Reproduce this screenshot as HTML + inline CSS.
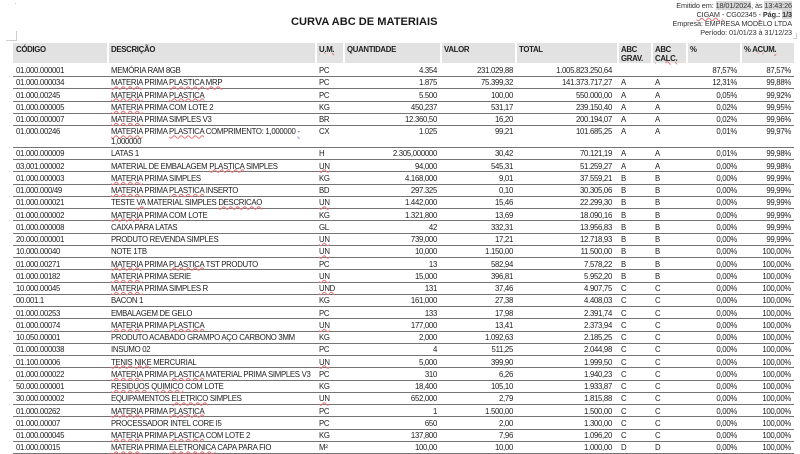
<!DOCTYPE html>
<html><head><meta charset="utf-8">
<style>
html,body{margin:0;padding:0;background:#fff;}
body{width:800px;height:453px;position:relative;overflow:hidden;font-family:"Liberation Sans",Arial,sans-serif;color:#1e1e1e;}
.title{position:absolute;left:291px;top:16.6px;font-size:11.1px;line-height:11.1px;font-weight:bold;white-space:nowrap;color:#1a1a1a;}
.info{position:absolute;right:8px;top:2.3px;text-align:right;font-size:7.3px;line-height:8.9px;color:#333;white-space:nowrap;letter-spacing:-0.1px;}
.hl{background:#d6d6d6;}
.sp{text-decoration:underline wavy #e57373;text-decoration-thickness:0.5px;text-underline-offset:0px;}
.bl{text-decoration:underline wavy #7a8fe0;text-decoration-thickness:0.5px;text-underline-offset:0px;}
table{position:absolute;left:13px;width:781px;table-layout:fixed;border-collapse:separate;border-spacing:0;font-size:7.8px;letter-spacing:-0.3px;}
th{background:#e2e2e2;height:20px;box-sizing:border-box;padding:1.5px 2px 0 2px;text-align:left;vertical-align:top;font-weight:bold;line-height:9px;border-left:2px solid #fff;color:#222;}
th:first-child{border-left:none;padding-left:3px;}
td{padding:1.35px 3px 0.325px 4px;line-height:9.6px;border-bottom:1px solid #747474;vertical-align:top;white-space:nowrap;overflow:visible;}
td:first-child{padding-left:3px;}
td.r{text-align:right;}
td.q{padding-right:3px;}
td.v{padding-right:2px;}
td.t{padding-right:5px;}
td.p{padding-right:3px;}
.mk{position:absolute;background:#cfcfcf;}
</style></head><body>
<div class="mk" style="left:15px;top:3px;width:1px;height:1px;"></div>
<div class="mk" style="left:16px;top:31px;width:1px;height:10px;"></div>
<div class="mk" style="left:6px;top:40px;width:10px;height:1px;"></div>
<div class="mk" style="left:796px;top:33px;width:1px;height:6px;"></div>
<div class="mk" style="left:793px;top:38px;width:3px;height:1px;"></div>

<div class="title">CURVA ABC DE MATERIAIS</div>
<div class="info">
Emitido em: <span class="hl">18/01/2024</span>, às <span class="hl">13:43:26</span><br>
<span class="sp">CIGAM</span> <span class="sp">-</span> CG02345 <span class="sp">-</span> <b>Pág.:</b> <b class="hl">1/3</b><br>
Empresa: EMPRESA MODELO LTDA<br>
Período: 01/01/23 à 31/12/23
</div>

<table style="top:43px;">
<colgroup><col style="width:94px"><col style="width:208px"><col style="width:28px"><col style="width:97px"><col style="width:75px"><col style="width:102px"><col style="width:34px"><col style="width:35px"><col style="width:54px"><col style="width:54px"></colgroup>
<tr><th>CÓDIGO</th><th>DESCRIÇÃO</th><th><span class="sp">U.M.</span></th><th>QUANTIDADE</th><th>VALOR</th><th>TOTAL</th><th>ABC<br>GRAV.</th><th>ABC<br><span class="sp">CALC.</span></th><th>%</th><th>% <span class="sp">ACUM.</span></th></tr>
</table>

<table style="top:64.9px;">
<colgroup><col style="width:94px"><col style="width:208px"><col style="width:28px"><col style="width:97px"><col style="width:75px"><col style="width:102px"><col style="width:34px"><col style="width:35px"><col style="width:54px"><col style="width:54px"></colgroup>
<tr><td>01.000.000001</td><td>MEMÓRIA RAM 8GB</td><td>PC</td><td class="r q">4.354</td><td class="r v">231.029,88</td><td class="r t">1.005.823.250,64</td><td></td><td></td><td class="r p">87,57%</td><td class="r p">87,57%</td></tr>
<tr><td>01.000.000034</td><td><span class="sp">MATERIA</span> PRIMA <span class="sp">PLASTICA</span> <span class="sp">MRP</span></td><td>PC</td><td class="r q">1.875</td><td class="r v">75.399,32</td><td class="r t">141.373.717,27</td><td>A</td><td>A</td><td class="r p">12,31%</td><td class="r p">99,88%</td></tr>
<tr><td>01.000.00245</td><td><span class="sp">MATERIA</span> PRIMA <span class="sp">PLASTICA</span></td><td>PC</td><td class="r q">5.500</td><td class="r v">100,00</td><td class="r t">550.000,00</td><td>A</td><td>A</td><td class="r p">0,05%</td><td class="r p">99,92%</td></tr>
<tr><td>01.000.000005</td><td><span class="sp">MATERIA</span> PRIMA COM LOTE 2</td><td>KG</td><td class="r q">450,237</td><td class="r v">531,17</td><td class="r t">239.150,40</td><td>A</td><td>A</td><td class="r p">0,02%</td><td class="r p">99,95%</td></tr>
<tr><td>01.000.000007</td><td><span class="sp">MATERIA</span> PRIMA SIMPLES V3</td><td>BR</td><td class="r q">12.360,50</td><td class="r v">16,20</td><td class="r t">200.194,07</td><td>A</td><td>A</td><td class="r p">0,02%</td><td class="r p">99,96%</td></tr>
<tr><td>01.000.00246</td><td><span class="sp">MATERIA</span> PRIMA <span class="sp">PLASTICA</span> COMPRIMENTO: 1,000000 <span class="bl">-</span><br>1,000000</td><td>CX</td><td class="r q">1.025</td><td class="r v">99,21</td><td class="r t">101.685,25</td><td>A</td><td>A</td><td class="r p">0,01%</td><td class="r p">99,97%</td></tr>
<tr><td>01.000.000009</td><td>LATAS 1</td><td>H</td><td class="r q">2.305,000000</td><td class="r v">30,42</td><td class="r t">70.121,19</td><td>A</td><td>A</td><td class="r p">0,01%</td><td class="r p">99,98%</td></tr>
<tr><td>03.001.000002</td><td>MATERIAL DE EMBALAGEM <span class="sp">PLASTICA</span> SIMPLES</td><td><span class="sp">UN</span></td><td class="r q">94,000</td><td class="r v">545,31</td><td class="r t">51.259,27</td><td>A</td><td>A</td><td class="r p">0,00%</td><td class="r p">99,98%</td></tr>
<tr><td>01.000.000003</td><td><span class="sp">MATERIA</span> PRIMA SIMPLES</td><td>KG</td><td class="r q">4.168,000</td><td class="r v">9,01</td><td class="r t">37.559,21</td><td>B</td><td>B</td><td class="r p">0,00%</td><td class="r p">99,99%</td></tr>
<tr><td>01.000.000/49</td><td><span class="sp">MATERIA</span> PRIMA <span class="sp">PLASTICA</span> INSERTO</td><td>BD</td><td class="r q">297.325</td><td class="r v">0,10</td><td class="r t">30.305,06</td><td>B</td><td>B</td><td class="r p">0,00%</td><td class="r p">99,99%</td></tr>
<tr><td>01.000.000021</td><td>TESTE <span class="sp">VA</span> MATERIAL SIMPLES <span class="sp">DESCRICAO</span></td><td><span class="sp">UN</span></td><td class="r q">1.442,000</td><td class="r v">15,46</td><td class="r t">22.299,30</td><td>B</td><td>B</td><td class="r p">0,00%</td><td class="r p">99,99%</td></tr>
<tr><td>01.000.000002</td><td><span class="sp">MATERIA</span> PRIMA COM LOTE</td><td>KG</td><td class="r q">1.321,800</td><td class="r v">13,69</td><td class="r t">18.090,16</td><td>B</td><td>B</td><td class="r p">0,00%</td><td class="r p">99,99%</td></tr>
<tr><td>01.000.000008</td><td>CAIXA PARA LATAS</td><td>GL</td><td class="r q">42</td><td class="r v">332,31</td><td class="r t">13.956,83</td><td>B</td><td>B</td><td class="r p">0,00%</td><td class="r p">99,99%</td></tr>
<tr><td>20.000.000001</td><td>PRODUTO REVENDA SIMPLES</td><td><span class="sp">UN</span></td><td class="r q">739,000</td><td class="r v">17,21</td><td class="r t">12.718,93</td><td>B</td><td>B</td><td class="r p">0,00%</td><td class="r p">99,99%</td></tr>
<tr><td>10.000.00040</td><td>NOTE 1TB</td><td><span class="sp">UN</span></td><td class="r q">10,000</td><td class="r v">1.150,00</td><td class="r t">11.500,00</td><td>B</td><td>B</td><td class="r p">0,00%</td><td class="r p">100,00%</td></tr>
<tr><td>01.000.00271</td><td><span class="sp">MATERIA</span> PRIMA <span class="sp">PLASTICA</span> TST PRODUTO</td><td>PC</td><td class="r q">13</td><td class="r v">582,94</td><td class="r t">7.578,22</td><td>B</td><td>B</td><td class="r p">0,00%</td><td class="r p">100,00%</td></tr>
<tr><td>01.000.00182</td><td><span class="sp">MATERIA</span> PRIMA SERIE</td><td><span class="sp">UN</span></td><td class="r q">15,000</td><td class="r v">396,81</td><td class="r t">5.952,20</td><td>B</td><td>B</td><td class="r p">0,00%</td><td class="r p">100,00%</td></tr>
<tr><td>10.000.00045</td><td><span class="sp">MATERIA</span> PRIMA SIMPLES R</td><td><span class="sp">UND</span></td><td class="r q">131</td><td class="r v">37,46</td><td class="r t">4.907,75</td><td>C</td><td>C</td><td class="r p">0,00%</td><td class="r p">100,00%</td></tr>
<tr><td>00.001.1</td><td>BACON 1</td><td>KG</td><td class="r q">161,000</td><td class="r v">27,38</td><td class="r t">4.408,03</td><td>C</td><td>C</td><td class="r p">0,00%</td><td class="r p">100,00%</td></tr>
<tr><td>01.000.00253</td><td>EMBALAGEM DE GELO</td><td>PC</td><td class="r q">133</td><td class="r v">17,98</td><td class="r t">2.391,74</td><td>C</td><td>C</td><td class="r p">0,00%</td><td class="r p">100,00%</td></tr>
<tr><td>01.000.00074</td><td><span class="sp">MATERIA</span> PRIMA <span class="sp">PLASTICA</span></td><td><span class="sp">UN</span></td><td class="r q">177,000</td><td class="r v">13,41</td><td class="r t">2.373,94</td><td>C</td><td>C</td><td class="r p">0,00%</td><td class="r p">100,00%</td></tr>
<tr><td>10.050.00001</td><td>PRODUTO ACABADO GRAMPO AÇO CARBONO 3MM</td><td>KG</td><td class="r q">2,000</td><td class="r v">1.092,63</td><td class="r t">2.185,25</td><td>C</td><td>C</td><td class="r p">0,00%</td><td class="r p">100,00%</td></tr>
<tr><td>01.000.000038</td><td>INSUMO 02</td><td>PC</td><td class="r q">4</td><td class="r v">511,25</td><td class="r t">2.044,98</td><td>C</td><td>C</td><td class="r p">0,00%</td><td class="r p">100,00%</td></tr>
<tr><td>01.100.00006</td><td><span class="sp">TENIS</span> <span class="sp">NIKE</span> MERCURIAL</td><td><span class="sp">UN</span></td><td class="r q">5,000</td><td class="r v">399,90</td><td class="r t">1.999,50</td><td>C</td><td>C</td><td class="r p">0,00%</td><td class="r p">100,00%</td></tr>
<tr><td>01.000.000022</td><td><span class="sp">MATERIA</span> PRIMA <span class="sp">PLASTICA</span> MATERIAL PRIMA SIMPLES V3</td><td>PC</td><td class="r q">310</td><td class="r v">6,26</td><td class="r t">1.940,23</td><td>C</td><td>C</td><td class="r p">0,00%</td><td class="r p">100,00%</td></tr>
<tr><td>50.000.000001</td><td><span class="sp">RESIDUOS</span> <span class="sp">QUIMICO</span> COM LOTE</td><td>KG</td><td class="r q">18,400</td><td class="r v">105,10</td><td class="r t">1.933,87</td><td>C</td><td>C</td><td class="r p">0,00%</td><td class="r p">100,00%</td></tr>
<tr><td>30.000.000002</td><td>EQUIPAMENTOS <span class="sp">ELETRICO</span> SIMPLES</td><td><span class="sp">UN</span></td><td class="r q">652,000</td><td class="r v">2,79</td><td class="r t">1.815,88</td><td>C</td><td>C</td><td class="r p">0,00%</td><td class="r p">100,00%</td></tr>
<tr><td>01.000.00262</td><td><span class="sp">MATERIA</span> PRIMA <span class="sp">PLASTICA</span></td><td>PC</td><td class="r q">1</td><td class="r v">1.500,00</td><td class="r t">1.500,00</td><td>C</td><td>C</td><td class="r p">0,00%</td><td class="r p">100,00%</td></tr>
<tr><td>01.000.00007</td><td>PROCESSADOR INTEL CORE I5</td><td>PC</td><td class="r q">650</td><td class="r v">2,00</td><td class="r t">1.300,00</td><td>C</td><td>C</td><td class="r p">0,00%</td><td class="r p">100,00%</td></tr>
<tr><td>01.000.000045</td><td><span class="sp">MATERIA</span> PRIMA <span class="sp">PLASTICA</span> COM LOTE 2</td><td>KG</td><td class="r q">137,800</td><td class="r v">7,96</td><td class="r t">1.096,20</td><td>C</td><td>C</td><td class="r p">0,00%</td><td class="r p">100,00%</td></tr>
<tr><td>01.000.00015</td><td><span class="sp">MATERIA</span> PRIMA <span class="sp">ELETRONICA</span> CAPA PARA FIO</td><td>M²</td><td class="r q">100,00</td><td class="r v">10,00</td><td class="r t">1.000,00</td><td>D</td><td>D</td><td class="r p">0,00%</td><td class="r p">100,00%</td></tr>
</table>
</body></html>
